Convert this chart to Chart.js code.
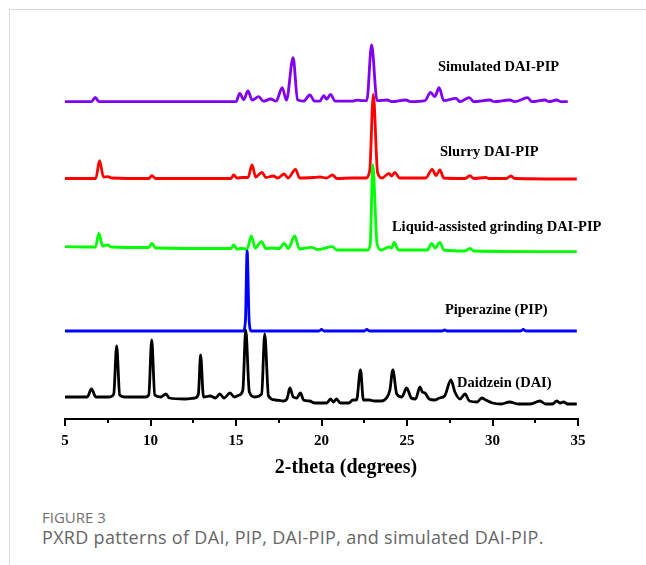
<!DOCTYPE html>
<html>
<head>
<meta charset="utf-8">
<script src="https://cdn.jsdelivr.net/npm/chart.js@4.4.0/dist/chart.umd.min.js"></script>
<style>
  html, body { margin: 0; padding: 0; background: #fff; }
  body { width: 646px; height: 565px; position: relative; overflow: hidden; }
  .card { position: absolute; left: 9px; top: 9px; width: 700px; height: 600px;
          border-left: 1px solid #d9d9d9; border-top: 1px solid #d9d9d9; }
  #graph { position: absolute; left: 0; top: 0; }
  .fig { position: absolute; left: 42px; top: 507px; font: 15px "Open Sans"; color: #707070; }
  .caption { position: absolute; left: 42px; top: 525px; font: 18px "Open Sans"; letter-spacing: 0.3px; color: #666; }
</style>
</head>
<body>
<div class="card"></div>
<canvas id="graph" width="646" height="480"></canvas>
<div class="fig">FIGURE 3</div>
<div class="caption">PXRD patterns of DAI, PIP, DAI-PIP, and simulated DAI-PIP.</div>
<script>
// x axis
const majorTicks = [5, 10, 15, 20, 25, 30, 35];
const minorTicks = [7.5, 12.5, 17.5, 22.5, 27.5, 32.5];

// patterns: [2-theta, intensity above own baseline]
const daidzein = [[5.0,7],[6.3,7],[6.55,15],[6.8,7],[7.6,7],[7.85,10],[8.02,58],[8.2,9],[8.5,7],[9.7,7],[9.9,9],
  [10.07,64],[10.25,9],[10.6,7],[10.9,10],[11.1,6],[12.0,5],[12.6,6],[12.8,10],[12.93,49],[13.1,7],[13.5,8],
  [13.8,6],[14.05,10],[14.3,6],[14.65,11],[14.9,7],[15.2,9],[15.4,14],[15.57,74],[15.78,12],[16.1,7],[16.5,10],
  [16.68,70],[16.9,8],[17.3,4],[17.8,3],[18.0,6],[18.15,16],[18.35,7],[18.55,6],[18.77,11],[18.95,4],[19.3,3],
  [19.6,1],[20.3,1],[20.53,5],[20.7,2],[20.88,5],[21.1,1],[21.6,1],[21.83,4],[22.05,4],[22.28,34],[22.45,4],
  [22.8,4],[23.1,3],[23.5,3],[23.8,6],[24.0,14],[24.17,34],[24.4,10],[24.7,7],[24.98,16],[25.25,6],[25.5,5],
  [25.76,17],[25.9,12],[26.05,11],[26.3,5],[26.6,4],[26.9,6],[27.2,8],[27.57,24],[27.8,12],[28.1,5],[28.39,10],
  [28.65,3],[29.1,2],[29.37,6],[29.6,4],[30.0,1],[30.5,0],[31.0,2],[31.5,0],[32.2,0],[32.78,3],[33.1,0],[33.5,0],
  [33.76,3],[33.95,1],[34.15,2],[34.4,0],[34.93,0]];

const piperazine = [[5.0,0],[15.42,0],[15.55,10],[15.65,80],[15.77,10],[15.9,0],[19.85,0],[20.0,1.5],[20.15,0],
  [22.5,0],[22.65,1.5],[22.8,0],[27.05,0],[27.2,1],[27.35,0],[31.65,0],[31.8,1.5],[31.95,0],[34.93,0]];

const grinding = [[5.0,3.3],[6.78,3],[6.98,16.7],[7.2,4],[7.5,5],[7.7,3],[9.9,2.5],[10.08,6.7],[10.3,2],[14.7,1.5],
  [14.87,5],[15.05,1],[15.3,1.5],[15.65,1],[15.9,14],[16.12,2],[16.49,8.3],[16.75,1.5],[17.1,2],[17.55,1.5],
  [17.81,6.7],[18.05,1.5],[18.44,14],[18.7,1],[19.41,2.7],[19.8,0.5],[20.64,3.3],[20.9,0],[22.7,0],[22.85,6],
  [23.0,85],[23.25,6],[23.5,0],[23.95,3],[24.1,2],[24.25,7.7],[24.5,0],[26.2,0],[26.44,6.7],[26.65,2],[26.92,7.7],
  [27.15,0],[28.4,-1],[28.68,1.7],[28.9,-1],[34.93,-1.7]];

const slurry = [[5.0,0],[6.8,0],[7.02,17.8],[7.25,1.5],[7.5,1.8],[7.75,0.5],[9.9,0],[10.08,2.8],[10.3,0],[14.7,0],
  [14.87,3.5],[15.05,0.5],[15.4,1],[15.7,1],[15.94,13.5],[16.15,1.5],[16.52,6.2],[16.75,1],[17.17,2.5],[17.45,0.5],
  [17.81,4.5],[18.05,0.5],[18.48,9.2],[18.72,0.5],[19.51,1],[19.9,1.5],[20.3,0.5],[20.64,3.5],[20.9,0],[21.8,0.5],
  [22.6,0.5],[22.82,8],[23.03,84],[23.28,6],[23.55,0.5],[23.94,5.2],[24.1,2.5],[24.29,6.2],[24.55,0.5],[26.1,0.5],
  [26.47,9.2],[26.7,3],[26.92,8.5],[27.15,0.5],[28.4,0],[28.68,2.8],[28.9,0],[29.6,1],[29.8,0],[30.8,0],[31.08,2.5],
  [31.3,0],[34.93,-0.5]];

const simulated = [[5.0,0],[6.55,0],[6.77,4.4],[6.98,0],[15.0,0],[15.22,8.4],[15.45,2],[15.7,10.7],[15.95,1.5],
  [16.33,5],[16.6,0.5],[17.03,2.7],[17.35,0.5],[17.7,14],[17.95,1.5],[18.34,44],[18.6,2],[18.95,0.5],[19.32,6.7],
  [19.6,0.5],[19.9,0.5],[20.13,6],[20.3,2.5],[20.53,7.4],[20.8,0.5],[21.8,0.5],[22.1,1.5],[22.4,1],[22.65,1],
  [22.93,56.7],[23.25,1],[23.86,1.7],[24.1,0],[24.93,1.7],[25.2,0],[26.05,1],[26.38,9.4],[26.62,5],[26.88,14],
  [27.15,1],[27.86,3.4],[28.1,0],[28.64,4],[28.9,0],[29.85,1.7],[30.1,0],[31.0,1.7],[31.3,0],[32.06,4],[32.3,0],
  [33.07,1.7],[33.3,0],[33.76,1.7],[34.0,0],[34.4,0]];

// vertical stacking offsets, same order as below
const names = ['Daidzein (DAI)', 'Piperazine (PIP)', 'Liquid-assisted grinding DAI-PIP', 'Slurry DAI-PIP', 'Simulated DAI-PIP'];
const patterns = [daidzein, piperazine, grinding, slurry, simulated];
const offsets = [15, 88, 169, 240.5, 317.3];
const colors = ['#000000', '#0000ff', '#00ff00', '#ff0000', '#8000f0'];
// where each name is written: [2-theta, y]
const labelAt = [[27.92, 36], [27.22, 109], [24.12, 192], [26.93, 267], [26.81, 352]];

const serif = '"Liberation Serif", "Times New Roman", serif';

const decorations = {
  id: 'decorations',
  afterDraw(chart) {
    const ctx = chart.ctx;
    const xs = chart.scales.x, ys = chart.scales.y;
    const axisY = chart.chartArea.bottom;
    ctx.save();
    ctx.strokeStyle = '#000';
    ctx.lineWidth = 2;
    ctx.beginPath();
    majorTicks.forEach(v => {
      const px = Math.round(xs.getPixelForValue(v));
      ctx.moveTo(px, axisY); ctx.lineTo(px, axisY + 7);
    });
    minorTicks.forEach(v => {
      const px = Math.round(xs.getPixelForValue(v));
      ctx.moveTo(px, axisY); ctx.lineTo(px, axisY + 4);
    });
    ctx.stroke();

    ctx.fillStyle = '#000';
    ctx.font = 'bold 14.5px ' + serif;
    ctx.textBaseline = 'middle';
    ctx.textAlign = 'left';
    names.forEach((n, i) => {
      ctx.fillText(n, xs.getPixelForValue(labelAt[i][0]), ys.getPixelForValue(labelAt[i][1]));
    });

    ctx.font = 'bold 20px ' + serif;
    ctx.textAlign = 'center';
    ctx.fillText('2-theta (degrees)', xs.getPixelForValue(21.43), axisY + 49);
    ctx.restore();
  }
};

new Chart(document.getElementById('graph').getContext('2d'), {
  type: 'line',
  data: {
    datasets: patterns.map((p, i) => ({
      label: names[i],
      data: p.map(([t, v]) => ({ x: t, y: v + offsets[i] })),
      borderColor: colors[i],
      backgroundColor: colors[i],
      borderWidth: 2.8,
      pointRadius: 0,
      fill: false,
      cubicInterpolationMode: 'monotone'
    }))
  },
  options: {
    responsive: false,
    animation: false,
    devicePixelRatio: 1,
    layout: { padding: { left: 65, right: 68, top: 19, bottom: 0 } },
    plugins: { legend: { display: false }, tooltip: { enabled: false } },
    scales: {
      x: {
        type: 'linear',
        min: 5,
        max: 35,
        afterBuildTicks: s => { s.ticks = majorTicks.map(v => ({ value: v })); },
        afterFit: s => { s.height = 61; },
        grid: { display: false, drawTicks: false },
        border: { display: true, color: '#000', width: 2 },
        ticks: { color: '#000', padding: 13, font: { family: serif, size: 15, weight: 'bold' }, maxRotation: 0 }
      },
      y: { display: false, min: 0, max: 400 }
    }
  },
  plugins: [decorations]
});
</script>
</body>
</html>
